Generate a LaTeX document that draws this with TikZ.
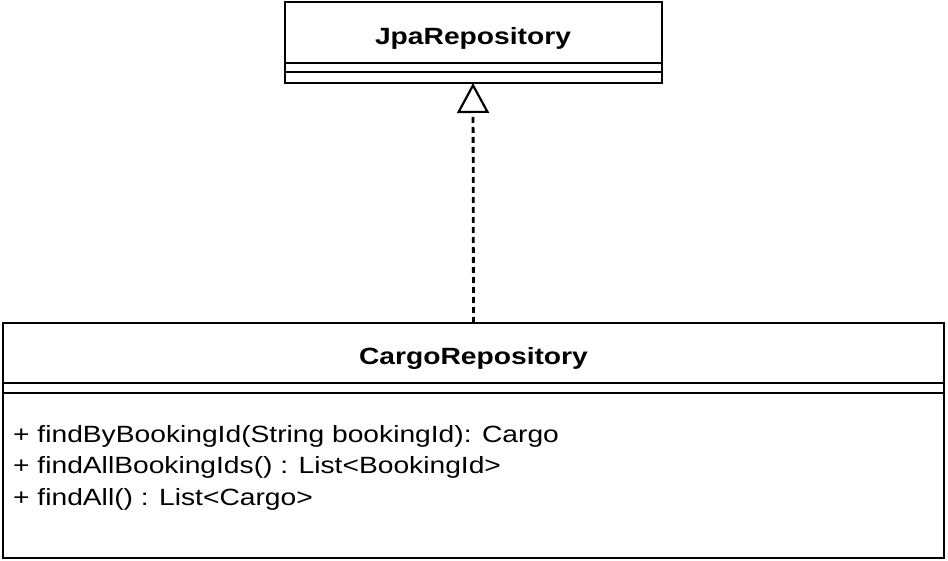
\documentclass[tikz,border=0pt]{standalone}
\usepackage{fontspec}
\setmainfont{Liberation Sans}[FakeStretch=1.2]
\usetikzlibrary{positioning, arrows.meta}

\tikzset{
  umlpart/.style={draw, line width=2pt, inner sep=0pt, outer sep=0pt, minimum width=#1},
  classname/.style={font=\fontsize{23.5}{28}\selectfont\bfseries, text height=24pt, text depth=0pt},
  optext/.style={font=\fontsize{23.5}{28}\selectfont, anchor=base west, inner sep=0pt},
  realizes/.style={dash pattern=on 6pt off 4pt, line width=2.8pt,
    -{Triangle[open, length=30pt, width=32pt, line width=2.2pt]}}
}

\begin{document}
\begin{tikzpicture}[x=1pt, y=-1pt]
        \useasboundingbox (0,0) rectangle (948,561);
        % interface
        \node[umlpart=377pt, classname, minimum height=61pt] (jpa) at (473,32.5) {JpaRepository};
        \node[umlpart=377pt, minimum height=9pt, below=0pt of jpa] (jpaattr) {};
        \node[umlpart=377pt, minimum height=11pt, below=0pt of jpaattr] (jpaops) {};
        % repository
        \node[umlpart=941pt, classname, minimum height=60pt] (cargo) at (473.5,353) {CargoRepository};
        \node[umlpart=941pt, minimum height=10pt, below=0pt of cargo] (cargoattr) {};
        \node[umlpart=941pt, minimum height=165pt, below=0pt of cargoattr] (cargoops) {};
        \foreach \m [count=\i] in {{+ findByBookingId(String bookingId): Cargo},
            {+ findAllBookingIds() : List<BookingId>}, {+ findAll() : List<Cargo>}}
        \node[optext] (op\i) at (13, 410.5+31.5*\i) {\m};
        \draw[realizes] (cargo.north) -- (jpaops.south);
    \end{tikzpicture}
\end{document}
